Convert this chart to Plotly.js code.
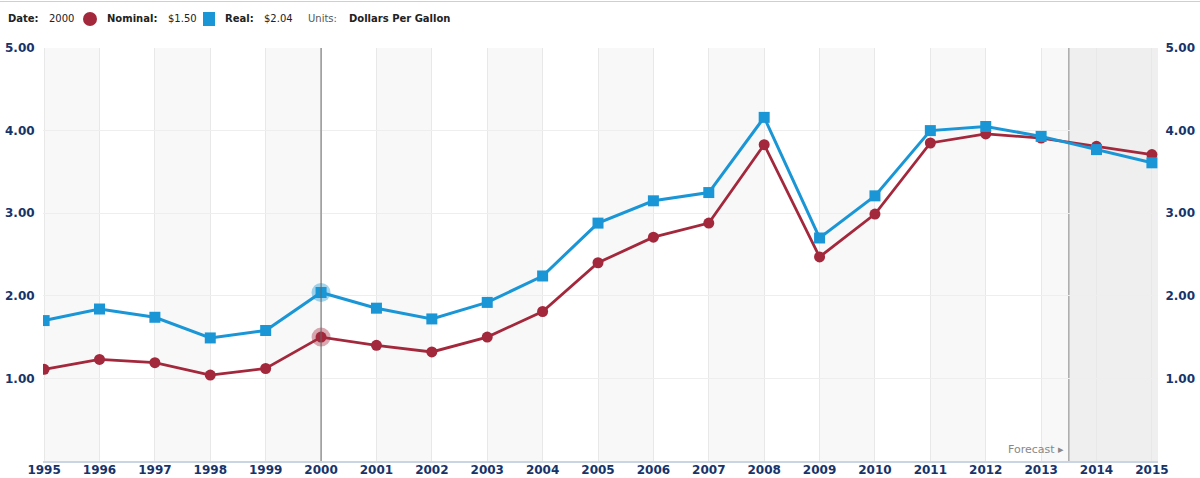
<!DOCTYPE html>
<html>
<head>
<meta charset="utf-8">
<script src="https://cdn.plot.ly/plotly-3.0.1.min.js"></script>
<style>
  html, body { margin: 0; padding: 0; background: #fff; }
  #wrap { position: relative; width: 1200px; height: 478px; }
  #chart { position: absolute; left: 0; top: 0; width: 1200px; height: 478px; }
  #topline { position: absolute; left: 0; top: 1px; width: 1200px; height: 1px; background: #cfcfcf; }
  .h { position: absolute; top: 13px; font-family: "DejaVu Sans", Verdana, sans-serif; font-size: 10px; color: #222; line-height: 12px; white-space: nowrap; }
  .b { font-weight: bold; }
  .g { color: #555; }
  .dot { position: absolute; top: 12px; width: 14px; height: 14px; border-radius: 7px; background: #a3283c; }
  .sq { position: absolute; top: 12px; width: 12px; height: 14px; background: #1a96d6; }
</style>
</head>
<body>
<div id="wrap">
  <div id="chart"></div>
  <div id="topline"></div>
  <span class="h b" style="left:8px">Date:</span>
  <span class="h" style="left:49px">2000</span>
  <span class="dot" style="left:83px"></span>
  <span class="h b" style="left:107px">Nominal:</span>
  <span class="h" style="left:168px">$1.50</span>
  <span class="sq" style="left:203px"></span>
  <span class="h b" style="left:225px">Real:</span>
  <span class="h" style="left:264px">$2.04</span>
  <span class="h g" style="left:308px">Units:</span>
  <span class="h b" style="left:349px">Dollars Per Gallon</span>
</div>
<script>
const years = [1995,1996,1997,1998,1999,2000,2001,2002,2003,2004,2005,2006,2007,2008,2009,2010,2011,2012,2013,2014,2015];
const nominal = [1.11,1.23,1.19,1.04,1.12,1.50,1.40,1.32,1.50,1.81,2.40,2.71,2.88,3.83,2.47,2.99,3.85,3.96,3.91,3.81,3.71];
const real =    [1.70,1.84,1.74,1.49,1.58,2.04,1.85,1.72,1.92,2.24,2.88,3.15,3.25,4.16,2.70,3.21,4.00,4.05,3.93,3.77,3.61];
const yTicks = [1,2,3,4,5];
const yTickText = ["1.00","2.00","3.00","4.00","5.00"];
const selectedYear = 2000;
const forecastStart = 2013.5;

const red = "#a3283c";
const blue = "#1a96d6";
const navy = "#17346a";
const selIdx = years.indexOf(selectedYear);

const traces = [
  { x: years, y: nominal, type: "scatter", mode: "lines+markers", name: "Nominal",
    line: { color: red, width: 2.8 }, marker: { symbol: "circle", size: 11, color: red },
    hoverinfo: "skip" },
  { x: years, y: real, type: "scatter", mode: "lines+markers", name: "Real",
    line: { color: blue, width: 3 }, marker: { symbol: "square", size: 11, color: blue },
    hoverinfo: "skip" },
  { x: [years[selIdx]], y: [real[selIdx]], type: "scatter", mode: "markers",
    marker: { symbol: "circle", size: 19, color: blue, opacity: 0.4 }, hoverinfo: "skip" },
  { x: [years[selIdx]], y: [nominal[selIdx]], type: "scatter", mode: "markers",
    marker: { symbol: "circle", size: 19, color: red, opacity: 0.4 }, hoverinfo: "skip" },
  { x: years, y: nominal, type: "scatter", mode: "lines", yaxis: "y2",
    line: { width: 0, color: "rgba(0,0,0,0)" }, hoverinfo: "skip" }
];

const shapes = [];
for (let i = 0; i < years.length - 1; i += 2) {
  shapes.push({ type: "rect", xref: "x", yref: "paper", x0: years[i], x1: years[i+1], y0: 0, y1: 1,
    fillcolor: "#f8f8f8", line: { width: 0 }, layer: "below" });
}
shapes.push({ type: "rect", xref: "x", yref: "paper", x0: forecastStart, x1: 2015.2, y0: 0, y1: 1,
  fillcolor: "#efefef", line: { width: 0 }, layer: "below" });
shapes.push({ type: "line", xref: "x", yref: "paper", x0: forecastStart, x1: forecastStart, y0: 0, y1: 1,
  line: { color: "#aaaaaa", width: 1.5 }, layer: "below" });
shapes.push({ type: "line", xref: "x", yref: "paper", x0: selectedYear, x1: selectedYear, y0: 0, y1: 1,
  line: { color: "#666666", width: 1 }, layer: "above" });

const tickFont = { family: "DejaVu Sans, Verdana, sans-serif", size: 12, color: navy, weight: "bold" };

const layout = {
  width: 1200, height: 478,
  margin: { l: 43, r: 42, t: 48, b: 17, pad: 0 },
  paper_bgcolor: "rgba(0,0,0,0)",
  plot_bgcolor: "#ffffff",
  showlegend: false,
  xaxis: {
    range: [1994.98, 2015.11], tickvals: years, ticktext: years.map(String),
    tickfont: tickFont, showgrid: true, gridcolor: "#e8e8e8", gridwidth: 1,
    zeroline: false, showline: true, linecolor: "#c9d5e3", linewidth: 2,
    ticks: "", ticklabelstandoff: -3, fixedrange: true, automargin: false
  },
  yaxis: {
    range: [0, 5], tickvals: yTicks, ticktext: yTickText, tickfont: tickFont,
    showgrid: true, gridcolor: "#eeeeee", zeroline: false, showline: false,
    ticks: "outside", ticklen: 5, tickcolor: "rgba(0,0,0,0)", automargin: false
  },
  yaxis2: {
    range: [0, 5], tickvals: yTicks, ticktext: yTickText, tickfont: tickFont,
    overlaying: "y", side: "right", showgrid: false, zeroline: false, showline: false,
    ticks: "outside", ticklen: 4, tickcolor: "rgba(0,0,0,0)", automargin: false
  },
  shapes: shapes,
  annotations: [{
    x: forecastStart, y: 0.135, xref: "x", yref: "y", xanchor: "right", yanchor: "middle",
    xshift: -3, text: "Forecast \u25B8", showarrow: false,
    font: { family: "DejaVu Sans, Verdana, sans-serif", size: 11, color: "#888888" }
  }]
};

Plotly.newPlot("chart", traces, layout, { displayModeBar: false, staticPlot: true });
</script>
</body>
</html>
